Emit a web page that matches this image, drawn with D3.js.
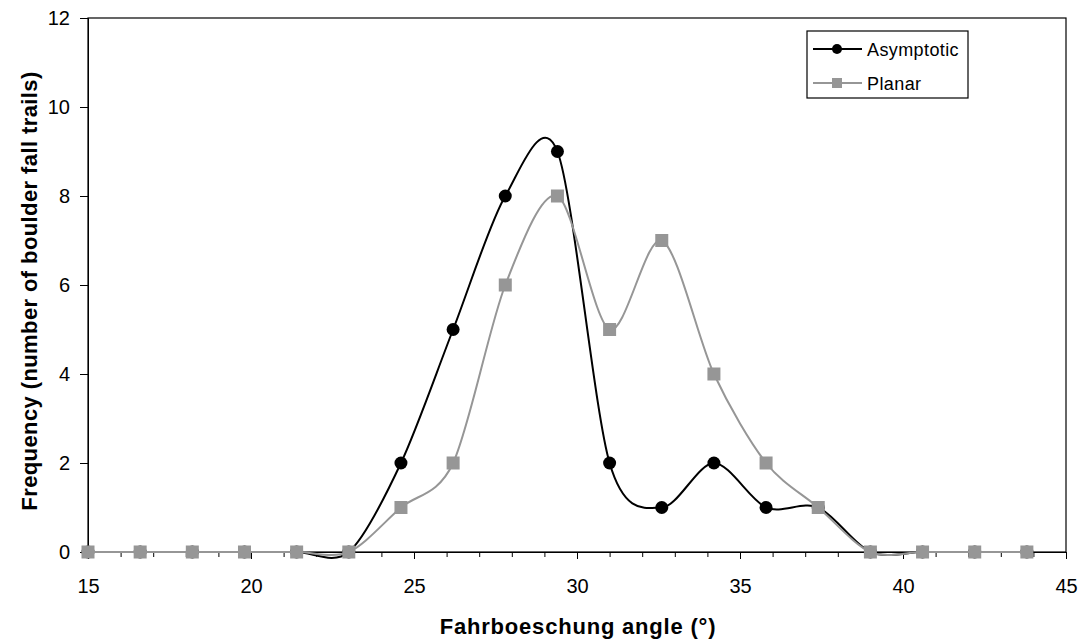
<!DOCTYPE html>
<html>
  <head>
    <script src="https://d3js.org/d3.v7.min.js"></script>
    <style>
      body { margin: 0; background: #fff; }
      svg { display: block; font-family: "Liberation Sans", Arial, sans-serif; }
    </style>
  </head>
  <body>
    <svg width="1083" height="641"></svg>
    <script>
      const angles = [15, 16.6, 18.2, 19.8, 21.4, 23, 24.6, 26.2, 27.8, 29.4, 31, 32.6, 34.2, 35.8, 37.4, 39, 40.6, 42.2, 43.8];
      const asymptotic = [0, 0, 0, 0, 0, 0, 2, 5, 8, 9, 2, 1, 2, 1, 1, 0, 0, 0, 0];
      const planar = [0, 0, 0, 0, 0, 0, 1, 2, 6, 8, 5, 7, 4, 2, 1, 0, 0, 0, 0];
      const xTicks = [15, 20, 25, 30, 35, 40, 45];
      const yTicks = [0, 2, 4, 6, 8, 10, 12];

      const svg = d3.select("svg");
      const plotL = 88, plotR = 1066, plotT = 18, plotB = 552;

      const x = d3.scaleLinear().domain([15, 45]).range([plotL, plotR]);
      const y = d3.scaleLinear().domain([0, 12]).range([plotB, plotT]);

      // plot frame
      svg.append("rect")
        .attr("x", plotL).attr("y", plotT)
        .attr("width", plotR - plotL).attr("height", plotB - plotT)
        .attr("fill", "none").attr("stroke", "#000").attr("stroke-width", 1.2);

      // x axis: minor ticks every 1, labels every 5
      const xAxis = svg.append("g").attr("transform", `translate(0,${plotB})`)
        .call(d3.axisBottom(x).tickValues(d3.range(15, 46, 1)).tickSize(5)
          .tickFormat(d => xTicks.includes(d) ? d : ""));
      xAxis.select(".domain").attr("stroke", "#000");
      xAxis.selectAll(".tick line").attr("y2", d => xTicks.includes(d) ? 7 : 5);
      xAxis.selectAll("text").attr("font-size", 20).attr("fill", "#000")
        .attr("font-family", "Liberation Sans, Arial, sans-serif")
        .attr("y", 41).attr("dy", 0);

      const yAxis = svg.append("g").attr("transform", `translate(${plotL},0)`)
        .call(d3.axisLeft(y).tickValues(yTicks).tickSize(8).tickPadding(10));
      yAxis.selectAll("text").attr("font-size", 20).attr("fill", "#000")
        .attr("font-family", "Liberation Sans, Arial, sans-serif");

      svg.append("text")
        .attr("x", 578).attr("y", 634)
        .attr("text-anchor", "middle").attr("font-size", 22).attr("font-weight", "bold")
        .attr("letter-spacing", 0.8)
        .text("Fahrboeschung angle (°)");

      svg.append("text")
        .attr("transform", `translate(37,291) rotate(-90)`)
        .attr("text-anchor", "middle").attr("font-size", 22).attr("font-weight", "bold")
        .attr("letter-spacing", 0.4)
        .text("Frequency (number of boulder fall trails)");

      const line = d3.line()
        .x((d, i) => x(angles[i]))
        .y(d => y(d))
        .curve(d3.curveCardinal.tension(0.1));

      // asymptotic series
      svg.append("path").datum(asymptotic)
        .attr("d", line).attr("fill", "none").attr("stroke", "#000").attr("stroke-width", 2);
      svg.selectAll("circle.asym").data(asymptotic).enter().append("circle")
        .attr("class", "asym")
        .attr("cx", (d, i) => x(angles[i])).attr("cy", d => y(d)).attr("r", 6.5)
        .attr("fill", "#000");

      // planar series
      svg.append("path").datum(planar)
        .attr("d", line).attr("fill", "none").attr("stroke", "#969696").attr("stroke-width", 2);
      svg.selectAll("rect.plan").data(planar).enter().append("rect")
        .attr("class", "plan")
        .attr("x", (d, i) => x(angles[i]) - 6.5).attr("y", d => y(d) - 6.5)
        .attr("width", 13).attr("height", 13)
        .attr("fill", "#969696");

      // legend
      const lg = svg.append("g");
      lg.append("rect").attr("x", 807).attr("y", 31).attr("width", 161).attr("height", 67)
        .attr("fill", "#fff").attr("stroke", "#000").attr("stroke-width", 1.2);
      const items = [
        { name: "Asymptotic", color: "#000", shape: "circle" },
        { name: "Planar", color: "#969696", shape: "square" }
      ];
      items.forEach((it, i) => {
        const yy = 49 + i * 34;
        lg.append("line").attr("x1", 813).attr("x2", 862).attr("y1", yy).attr("y2", yy)
          .attr("stroke", it.color).attr("stroke-width", 2);
        if (it.shape === "circle") {
          lg.append("circle").attr("cx", 837).attr("cy", yy).attr("r", 5).attr("fill", it.color);
        } else {
          lg.append("rect").attr("x", 832).attr("y", yy - 5).attr("width", 10).attr("height", 10).attr("fill", it.color);
        }
        lg.append("text").attr("x", 867).attr("y", yy + 6.5).attr("font-size", 18)
          .attr("letter-spacing", 0.4).text(it.name);
      });
    </script>
  </body>
</html>
